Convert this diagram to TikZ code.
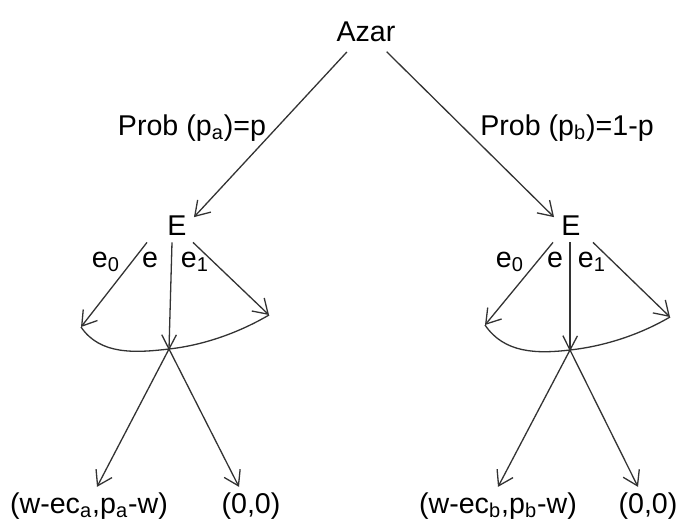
\documentclass[tikz,border=0pt]{standalone}
\usepackage{fontspec}
\setmainfont{Liberation Sans}
\usetikzlibrary{arrows.meta}

\begin{document}
\begin{tikzpicture}[x=0.5pt, y=-0.5pt,
  txt/.style={anchor=base, inner sep=1.5pt,
              font=\fontsize{14.3}{17}\selectfont},
  choice/.style={txt, inner sep=3.5pt},
  move/.style={-{Straight Barb[length=7pt,width=9pt]},
               line width=0.65pt, draw=black!80},
  arcline/.style={line width=0.65pt, draw=black!80}
]
  \useasboundingbox (0,0) rectangle (681,520);
  \node[txt] (azar) at (366,41) {Azar};
  \node[choice] (Ea) at (177,235) {E};
  \node[choice] (Eb) at (571,235) {E};
  \draw[move, shorten <=5pt] (azar) -- ([yshift=4pt]Ea.east);
  \draw[move, shorten <=5pt] (azar) -- ([yshift=4pt]Eb.west);
  \node[txt] (proba) at (192,135) {Prob (p\textsubscript{a})=p};
  \node[txt] (probb) at (567,135) {Prob (p\textsubscript{b})=1-p};

  % left branch
  \coordinate (a0) at (81,327);
  \coordinate (a1) at (269,315);
  \coordinate (Ja) at (169,349);
  \draw[move] ([xshift=-15pt]Ea.south) -- (a0);
  \draw[arcline] ([xshift=-2.5pt]Ea.south) -- (Ja);
  \draw[move] ([xshift=8pt]Ea.south) -- (a1);
  \draw[arcline] (a0) .. controls (100,355) and (135,353) .. (Ja)
    .. controls (205,345) and (240,332) .. (a1);
  \node[txt] (ea0) at (106,267) {e\textsubscript{0}};
  \node[txt] (ea) at (150,267) {e};
  \node[txt] (ea1) at (195,267) {e\textsubscript{1}};
  \node[txt] (paya) at (89,513) {(w-ec\textsubscript{a},p\textsubscript{a}-w)};
  \node[txt] (zeroa) at (251,513) {(0,0)};
  \draw[move, shorten <=-8pt] (Ja) -- ([xshift=4pt, yshift=1pt]paya.north);
  \draw[move, shorten <=-8pt] (Ja) -- ([xshift=-6pt, yshift=1pt]zeroa.north);

  % right branch
  \coordinate (b0) at (485,325);
  \coordinate (b1) at (670,317);
  \coordinate (Jb) at (570,350);
  \draw[move] ([xshift=-9pt]Eb.south) -- (b0);
  \draw[arcline] ([xshift=-0.5pt]Eb.south) -- (Jb);
  \draw[move] ([xshift=11pt]Eb.south) -- (b1);
  \draw[arcline] (b0) .. controls (504,353) and (536,354) .. (Jb)
    .. controls (606,346) and (641,334) .. (b1);
  \node[txt] (eb0) at (510,267) {e\textsubscript{0}};
  \node[txt] (eb) at (555,267) {e};
  \node[txt] (eb1) at (592,267) {e\textsubscript{1}};
  \node[txt] (payb) at (498,513) {(w-ec\textsubscript{b},p\textsubscript{b}-w)};
  \node[txt] (zerob) at (648,513) {(0,0)};
  \draw[move, shorten <=-8pt] (Jb) -- ([yshift=1pt]payb.north);
  \draw[move, shorten <=-8pt] (Jb) -- ([xshift=-5pt, yshift=1pt]zerob.north);
\end{tikzpicture}
\end{document}
